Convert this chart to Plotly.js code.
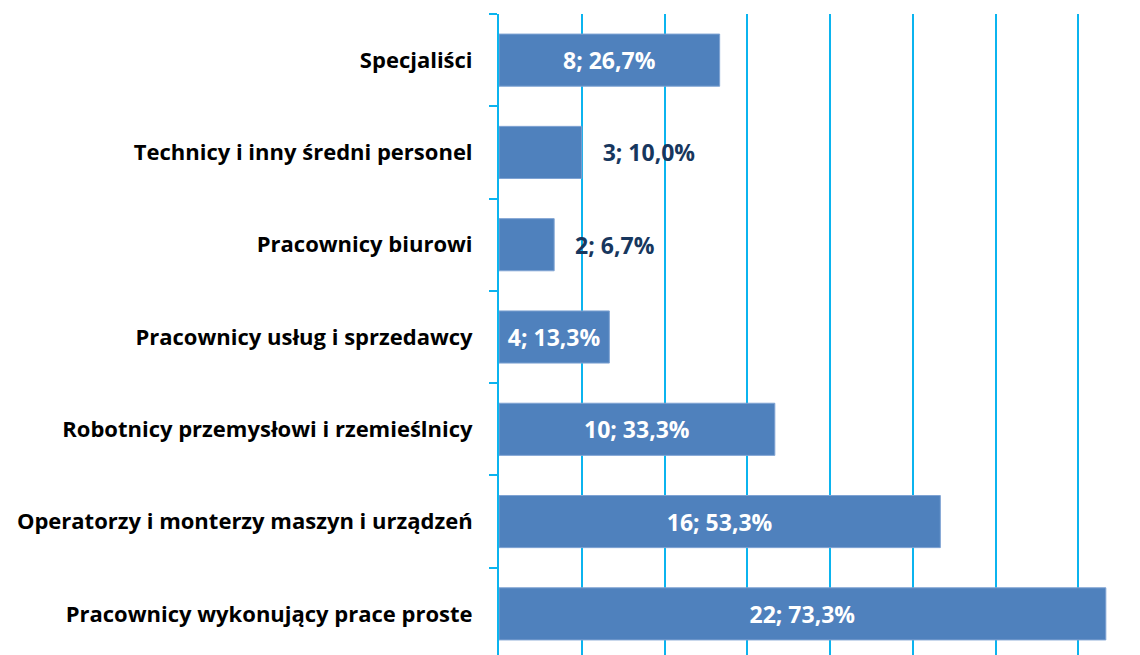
<!DOCTYPE html>
<html>
<head>
<meta charset="utf-8">
<script src="https://cdn.plot.ly/plotly-3.0.1.min.js"></script>
<style>
html,body{margin:0;padding:0;overflow:hidden;background:#fff;}
#chart{width:1161px;height:660px;}
</style>
</head>
<body>
<div id="chart"></div>
<script>
const categories = [
  "Specjaliści",
  "Technicy i inny średni personel",
  "Pracownicy biurowi",
  "Pracownicy usług i sprzedawcy",
  "Robotnicy przemysłowi i rzemieślnicy",
  "Operatorzy i monterzy maszyn i urządzeń",
  "Pracownicy wykonujący prace proste"
];
const counts = [8, 3, 2, 4, 10, 16, 22];
const percents = [26.7, 10.0, 6.7, 13.3, 33.3, 53.3, 73.3];
const labelPlacement = ["inside", "outside", "outside", "inside", "inside", "inside", "inside"];

const NB = "\u00a0";
const labels = counts.map((c, i) => {
  const t = c + "; " + percents[i].toFixed(1).replace(".", ",") + "%";
  return labelPlacement[i] === "outside" ? NB.repeat(3) + t : t;
});
const labelColors = labelPlacement.map(p => p === "outside" ? "#17375E" : "#FFFFFF");

const FONT = "'Open Sans', Lato, sans-serif";
const CYAN = "#0BB4EF";

const trace = {
  type: "bar",
  orientation: "h",
  y: categories,
  x: counts,
  text: labels,
  textposition: labelPlacement,
  insidetextanchor: "middle",
  constraintext: "none",
  cliponaxis: false,
  textfont: {family: FONT, size: 23, weight: "bold", color: labelColors},
  marker: {color: "#4F81BD", line: {color: "#7FA3D3", width: 1}},
  width: 0.565,
  hoverinfo: "none"
};

const layout = {
  width: 1161,
  height: 660,
  autosize: false,
  margin: {l: 499, r: 0, t: 14, b: 0, pad: 0},
  paper_bgcolor: "#FFFFFF",
  plot_bgcolor: "#FFFFFF",
  showlegend: false,
  font: {family: FONT, color: "#000"},
  xaxis: {
    range: [0, 24],
    dtick: 3,
    tick0: 0,
    showgrid: true,
    gridcolor: CYAN,
    gridwidth: 2,
    zeroline: false,
    showline: false,
    showticklabels: false,
    ticks: "",
    fixedrange: true
  },
  yaxis: {
    type: "category",
    autorange: "reversed",
    showline: true,
    linecolor: CYAN,
    linewidth: 2,
    showgrid: false,
    tickson: "boundaries",
    ticks: "outside",
    ticklen: 8,
    tickwidth: 2,
    tickcolor: CYAN,
    ticklabelstandoff: 20,
    tickfont: {family: FONT, size: 22, weight: "bold", color: "#000"},
    fixedrange: true
  }
};

Plotly.newPlot("chart", [trace], layout, {displayModeBar: false, staticPlot: true});
</script>
</body>
</html>
